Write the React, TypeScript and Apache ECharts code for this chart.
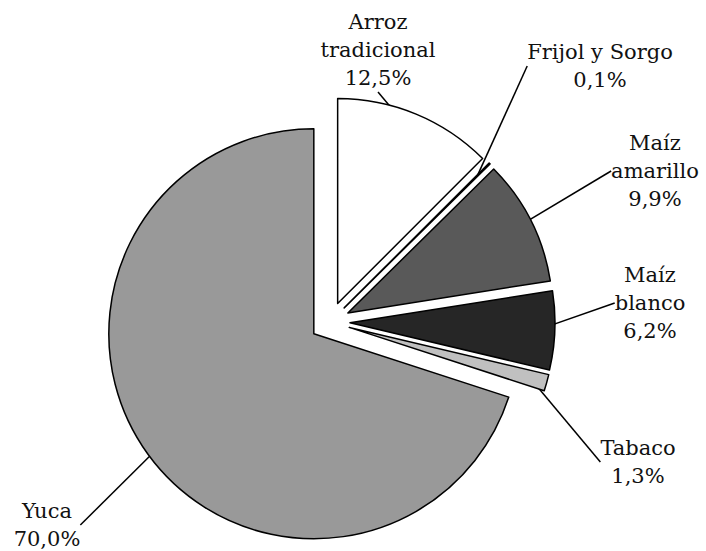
import React, { useEffect, useRef } from "react";
import * as echarts from "echarts";

// Data
const categories = ["Arroz\ntradicional", "Frijol y Sorgo", "Maíz\namarillo", "Maíz\nblanco", "Tabaco", "Yuca"];
const shares = [12.5, 0.1, 9.9, 6.2, 1.3, 70.0];
const sliceColors = ["#ffffff", "#1a1a1a", "#595959", "#262626", "#c0c0c0", "#999999"];

// Label placement (centre of each label block, in px)
const labelCenters: [number, number][] = [
  [378, 50],
  [600, 66],
  [655, 171],
  [650, 303],
  [638, 462],
  [47, 525],
];

const fmt = (p: any) =>
  p.name + "\n" + Number(p.value).toFixed(1).replace(".", ",") + "%";

export default function App() {
  const ref = useRef<HTMLDivElement>(null);
  useEffect(() => {
    if (!ref.current) return;
    const chart = echarts.init(ref.current, null, { renderer: "svg" });
    chart.setOption({
      animation: false,
      backgroundColor: "#ffffff",
      textStyle: { fontFamily: "'DejaVu Serif', 'Liberation Serif', serif" },
      series: [
        {
          // exploded slices
          type: "pie",
          center: [330, 322],
          radius: [0, 205],
          startAngle: 90,
          clockwise: true,
          selectedMode: "multiple",
          selectedOffset: 20,
          avoidLabelOverlap: false,
          emphasis: { disabled: true },
          itemStyle: { borderColor: "#000000", borderWidth: 1.5 },
          select: { itemStyle: { borderColor: "#000000", borderWidth: 1.5 } },
          label: { show: false },
          labelLine: { show: false },
          data: categories.map((name, i) => ({
            name,
            value: shares[i],
            selected: true,
            itemStyle: { color: sliceColors[i] },
          })),
        },
        {
          // labels with leader lines
          type: "pie",
          center: [330, 322],
          radius: [0, 208],
          startAngle: 90,
          clockwise: true,
          silent: true,
          selectedMode: false,
          avoidLabelOverlap: false,
          emphasis: { disabled: true },
          itemStyle: { color: "rgba(0,0,0,0)", borderWidth: 0 },
          label: {
            show: true,
            fontFamily: "'DejaVu Serif', 'Liberation Serif', serif",
            fontSize: 21,
            lineHeight: 28,
            color: "#111111",
            align: "center",
            formatter: fmt,
          },
          labelLine: {
            show: true,
            length: 10,
            length2: 0,
            lineStyle: { color: "#000000", width: 1.5 },
          },
          labelLayout: (params: any) => {
            const c = labelCenters[params.dataIndex];
            return { x: c[0], y: c[1], align: "center", verticalAlign: "middle" };
          },
          data: categories.map((name, i) => ({ name, value: shares[i] })),
        },
      ],
    });
    return () => chart.dispose();
  }, []);
  return (
    <div
      ref={ref}
      style={{ position: "fixed", left: 0, top: 0, width: 706, height: 551 }}
    />
  );
}
